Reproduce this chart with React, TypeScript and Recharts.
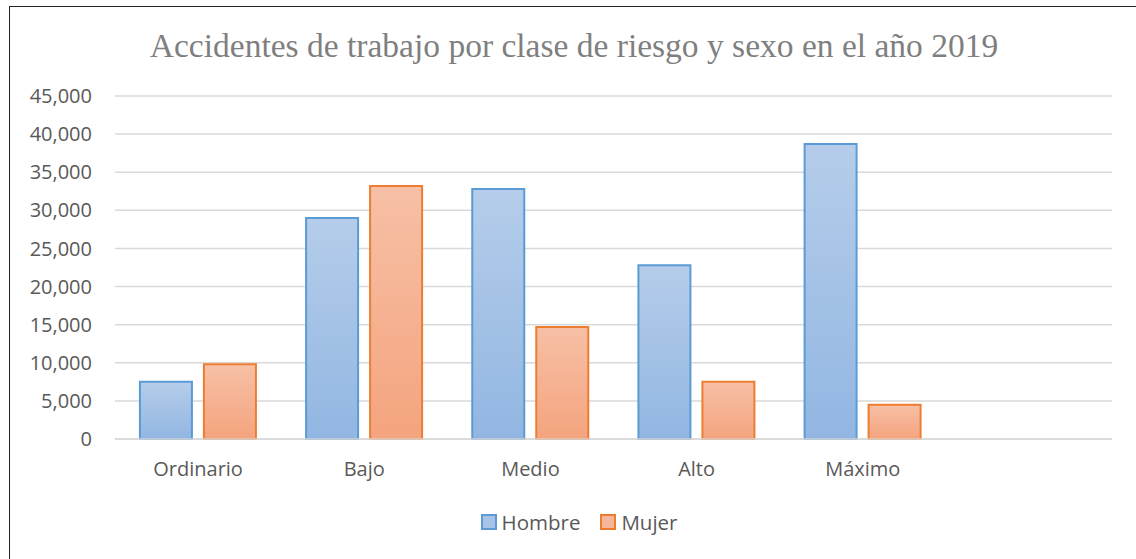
import React from "react";
import { BarChart, Bar, XAxis, YAxis, CartesianGrid } from "recharts";

const categories = ["Ordinario", "Bajo", "Medio", "Alto", "Máximo", ""];
const hombre: (number | null)[] = [7500, 29000, 32800, 22800, 38700, null];
const mujer: (number | null)[] = [9800, 33200, 14700, 7500, 4500, null];
const yTicks = [0, 5000, 10000, 15000, 20000, 25000, 30000, 35000, 40000, 45000];
const seriesNames = ["Hombre", "Mujer"];

const data = categories.map((c, i) => ({ name: c, Hombre: hombre[i], Mujer: mujer[i] }));

const FONT = "'Open Sans', sans-serif";
const TEXT = "#595959";

const legendItems = [
  { name: seriesNames[0], fill: "#a8c3e7", stroke: "#5b9bd5" },
  { name: seriesNames[1], fill: "#f6b699", stroke: "#ed7d31" },
];

export default function App() {
  return (
    <div style={{ position: "absolute", left: 0, top: 0, width: 1136, height: 559, background: "#fff" }}>
      <div style={{ position: "absolute", left: 9, top: 6, width: 1127, height: 553, borderLeft: "1.5px solid #222", borderTop: "1.5px solid #222" }} />
      <div style={{ position: "absolute", left: 0, top: 27, width: 1148, textAlign: "center", fontFamily: "'Liberation Serif', 'Times New Roman', serif", fontSize: 33.5, color: "#7f7f7f", whiteSpace: "nowrap" }}>
        Accidentes de trabajo por clase de riesgo y sexo en el año 2019
      </div>
      <div style={{ position: "absolute", left: 0, top: 0 }}>
        <BarChart width={1136} height={559} data={data} margin={{ top: 96, right: 24, left: 35, bottom: 0 }} barGap={12} barCategoryGap="15%">
          <defs>
            <linearGradient id="gH" x1="0" y1="0" x2="0" y2="1">
              <stop offset="0%" stopColor="#b5cdea" />
              <stop offset="100%" stopColor="#92b6e2" />
            </linearGradient>
            <linearGradient id="gM" x1="0" y1="0" x2="0" y2="1">
              <stop offset="0%" stopColor="#f7c0a6" />
              <stop offset="100%" stopColor="#f4a47e" />
            </linearGradient>
          </defs>
          <CartesianGrid vertical={false} stroke="#d9d9d9" strokeWidth={1.5} />
          <XAxis
            dataKey="name"
            height={120}
            axisLine={{ stroke: "#d9d9d9", strokeWidth: 1.5 }}
            tickLine={false}
            tickMargin={17}
            tick={{ fill: TEXT, fontFamily: FONT, fontSize: 20 }}
            interval={0}
          />
          <YAxis
            width={80}
            domain={[0, 45000]}
            ticks={yTicks}
            axisLine={false}
            tickLine={false}
            tickMargin={17}
            tick={{ fill: TEXT, fontFamily: FONT, fontSize: 20 }}
            tickFormatter={(v: number) => v.toLocaleString("en-US")}
          />
          <Bar dataKey="Hombre" fill="url(#gH)" stroke="#5b9bd5" strokeWidth={2} isAnimationActive={false} />
          <Bar dataKey="Mujer" fill="url(#gM)" stroke="#ed7d31" strokeWidth={2} isAnimationActive={false} />
        </BarChart>
      </div>
      <div style={{ position: "absolute", left: 0, top: 508, width: 1158, display: "flex", justifyContent: "center", alignItems: "center", fontFamily: FONT, fontSize: 20.5, color: TEXT }}>
        {legendItems.map((it, i) => (
          <div key={it.name} style={{ display: "flex", alignItems: "center", marginLeft: i ? 20 : 0 }}>
            <span style={{ display: "inline-block", width: 12, height: 12, background: it.fill, border: `2px solid ${it.stroke}`, marginRight: 5 }} />
            <span>{it.name}</span>
          </div>
        ))}
      </div>
    </div>
  );
}
